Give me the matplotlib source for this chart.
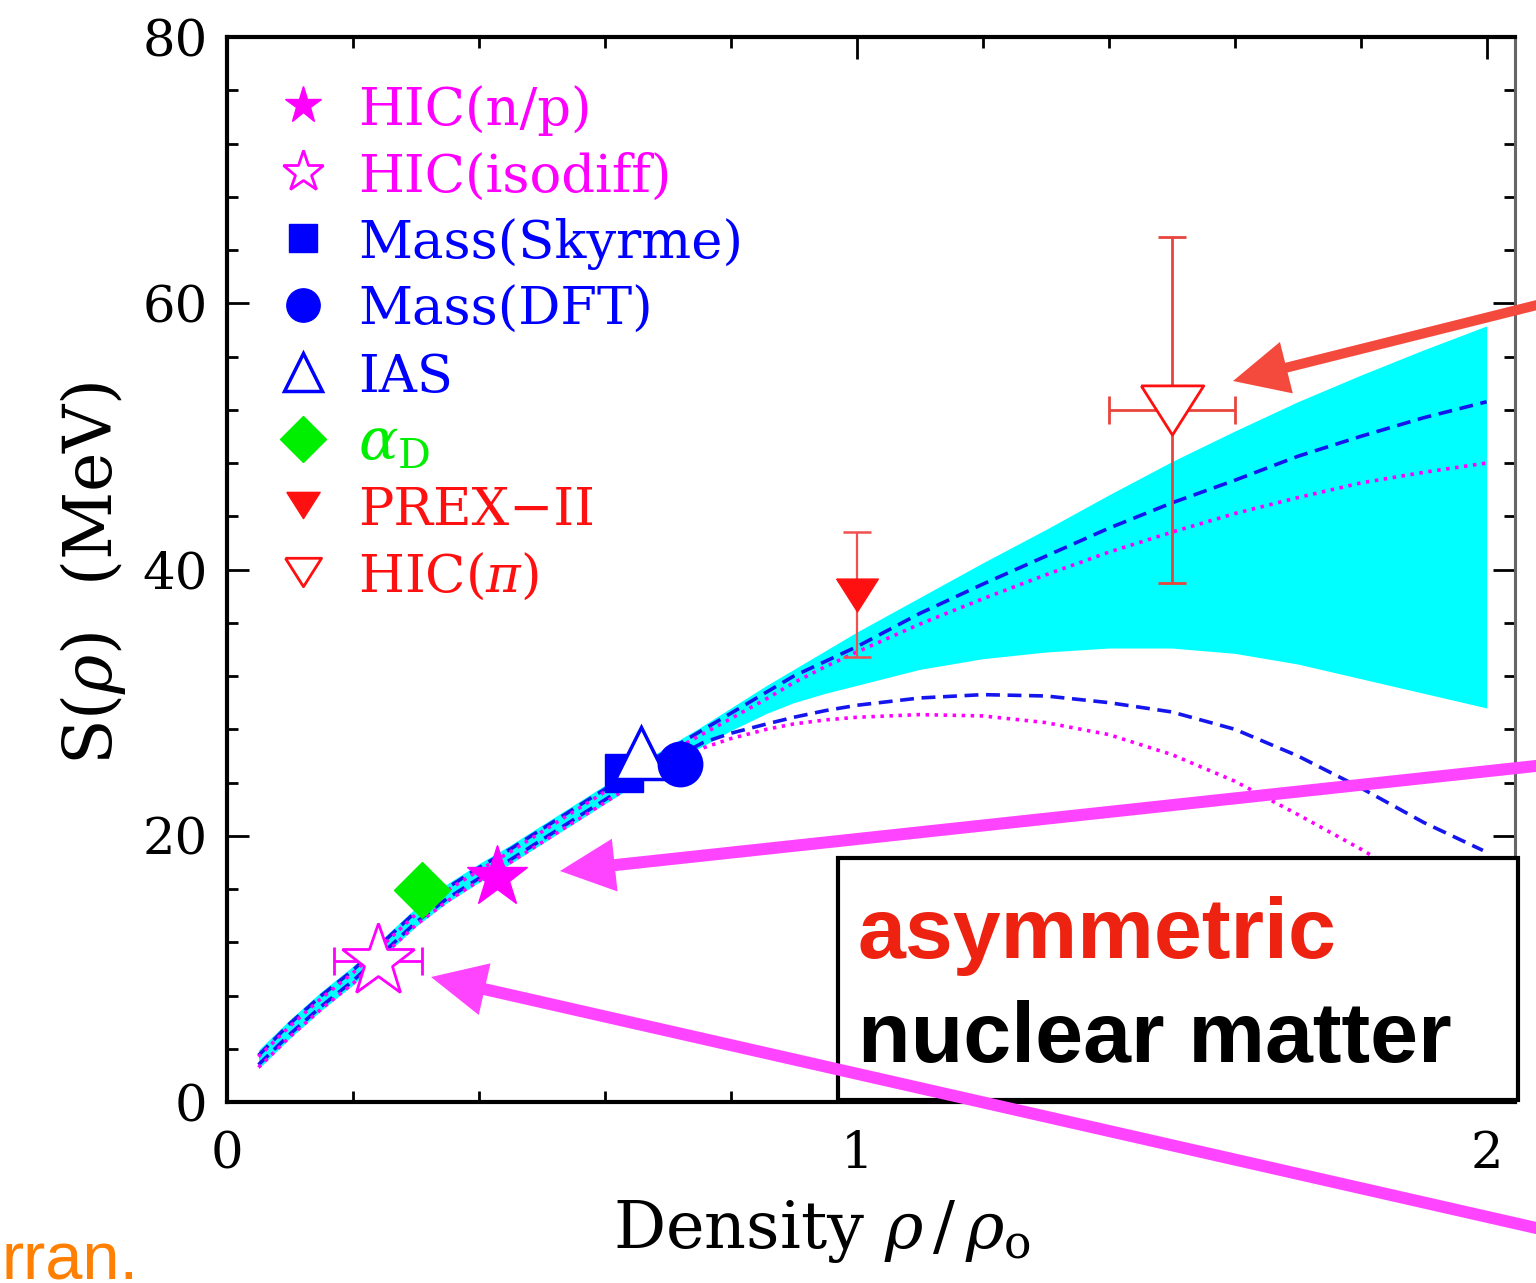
import matplotlib
matplotlib.use('Agg')
import matplotlib.pyplot as plt
from matplotlib.patches import Rectangle, FancyArrow
from matplotlib.transforms import Affine2D
from matplotlib.ticker import MultipleLocator

plt.rcParams['font.family'] = ['DejaVu Serif']
plt.rcParams['mathtext.fontset'] = 'dejavuserif'
plt.rcParams['lines.scale_dashes'] = False

# ---------------- data ----------------
x_low = [0.05, 0.1, 0.15, 0.2, 0.25, 0.3, 0.35, 0.4, 0.45, 0.5, 0.55, 0.6, 0.65, 0.7]
x_high = [0.75, 0.8, 0.857, 0.9, 0.95, 1.0, 1.1, 1.2, 1.3, 1.4, 1.5, 1.6, 1.7, 1.8, 1.9, 2.0]

# stiff (upper) dashed blue curve
x_dash_hi = x_low + x_high
s_dash_hi = [3.5, 5.9, 8.0, 9.9, 12.1, 14.3, 16.1, 17.6, 19.0, 20.5, 22.0, 23.5, 25.0, 26.4,
             27.8, 29.2, 30.8, 32.0, 33.1, 34.2, 36.7, 38.9, 41.0, 43.1, 45.0, 46.7, 48.5, 50.0, 51.4, 52.6]
# stiff (upper) dotted magenta curve
x_dot_hi = x_low + x_high
s_dot_hi = [3.4, 5.7, 7.8, 9.7, 11.9, 14.1, 15.9, 17.4, 18.8, 20.3, 21.8, 23.3, 24.8, 26.2,
            27.5, 28.8, 30.3, 31.5, 32.7, 33.8, 35.9, 37.8, 39.6, 41.3, 42.8, 44.2, 45.4, 46.5, 47.3, 48.0]
# soft (lower) dashed blue curve
x_dash_lo = x_low + [0.756, 0.8, 0.857, 0.9, 0.95, 1.0, 1.1, 1.2, 1.3, 1.4, 1.5, 1.6, 1.7, 1.8, 1.9, 1.994]
s_dash_lo = [2.8, 5.1, 7.2, 9.1, 11.3, 13.5, 15.3, 16.8, 18.2, 19.7, 21.2, 22.7, 24.2, 25.6,
             27.0, 27.7, 28.4, 28.9, 29.4, 29.8, 30.35, 30.6, 30.5, 30.0, 29.3, 28.0, 26.0, 23.6, 21.0, 18.9]
# soft (lower) dotted magenta curve
x_dot_lo = x_low + [0.756, 0.8, 0.857, 0.9, 0.95, 1.0, 1.1, 1.2, 1.3, 1.4, 1.5, 1.6, 1.7, 1.8, 1.9]
s_dot_lo = [2.6, 4.9, 7.0, 8.9, 11.1, 13.3, 15.1, 16.6, 18.0, 19.5, 21.0, 22.5, 24.0, 25.4,
            26.6, 27.3, 28.0, 28.4, 28.7, 28.9, 29.1, 29.0, 28.5, 27.6, 26.1, 24.1, 21.6, 19.0, 16.2]

# cyan constraint band
band_x = x_low + x_high
band_lo = [2.5, 4.8, 6.9, 8.8, 11.0, 13.2, 15.0, 16.5, 17.9, 19.4, 20.9, 22.4, 23.9, 25.3,
           26.6, 27.9, 29.2, 30.0, 30.7, 31.3, 32.5, 33.3, 33.8, 34.1, 34.1, 33.7, 32.9, 31.8, 30.7, 29.6]
band_hi = [3.9, 6.2, 8.3, 10.2, 12.4, 14.6, 16.4, 17.9, 19.3, 20.8, 22.3, 23.8, 25.3, 26.7,
           28.1, 29.6, 31.3, 32.5, 33.9, 35.3, 37.9, 40.5, 43.0, 45.6, 48.1, 50.4, 52.6, 54.6, 56.5, 58.3]

# measurements
hic_np = (0.429, 16.9)
hic_iso = (0.24, 10.6)
hic_iso_xerr = 0.07
mass_skyrme = (0.63, 24.7)
ias = (0.658, 26.2)
mass_dft = (0.719, 25.4)
alpha_d = (0.31, 15.9)
prex = (1.0, 38.1)
prex_yerr = 4.7
hic_pi = (1.5, 52.0)
hic_pi_yerr = 13.0
hic_pi_xerr = 0.1

legend_labels = ['HIC(n/p)', 'HIC(isodiff)', 'Mass(Skyrme)', 'Mass(DFT)', 'IAS',
                 r'$\alpha_{\rm D}$', 'PREX\u2212II', r'HIC($\pi$)']

x_ticks = [0, 1, 2]
y_ticks = [0, 20, 40, 60, 80]

# ---------------- figure ----------------
W, H = 1536, 1283
fig = plt.figure(figsize=(W / 100, H / 100), dpi=100)
ax = fig.add_axes([227 / W, 1 - 1102 / H, (1515 - 227) / W, (1102 - 37) / H])

MAG = '#FF00FF'
BLUE = '#0000FF'
RED = '#FF1010'
GREEN = '#00EE00'
ERR = '#E8453C'

ax.fill_between(band_x, band_lo, band_hi, color='#00FFFF', lw=0, zorder=1)

ax.plot(x_dash_hi, s_dash_hi, color='#1515EE', lw=2.6, dashes=(10, 5.5), zorder=2)
ax.plot(x_dash_lo, s_dash_lo, color='#1515EE', lw=2.6, dashes=(10, 5.5), zorder=2)
ax.plot(x_dot_hi, s_dot_hi, color=MAG, lw=2.6, dashes=(2.5, 4), zorder=2)
ax.plot(x_dot_lo, s_dot_lo, color=MAG, lw=2.6, dashes=(2.5, 4), zorder=2)

flat_down = [(-1.27, 1.0), (1.27, 1.0), (0.0, -1.0), (-1.27, 1.0)]

# data markers
ax.errorbar([hic_iso[0]], [hic_iso[1]], xerr=hic_iso_xerr, fmt='*', ms=55, mfc='white',
            mec=MAG, mew=2.0, ecolor=MAG, elinewidth=2, capsize=10, capthick=2, zorder=5)
ax.plot([alpha_d[0]], [alpha_d[1]], 'D', ms=29, color=GREEN, mec=GREEN, zorder=5)
ax.plot([hic_np[0]], [hic_np[1]], '*', ms=46, color=MAG, mec=MAG, zorder=5)
ax.plot([mass_skyrme[0]], [mass_skyrme[1]], 's', ms=28, color=BLUE, mec=BLUE, zorder=5)
ax.plot([ias[0]], [ias[1]], '^', ms=37, mfc='white', mec=BLUE, mew=2.5, zorder=6)
ax.plot([mass_dft[0]], [mass_dft[1]], 'o', ms=32, color=BLUE, mec=BLUE, zorder=6)
ax.errorbar([prex[0]], [prex[1]], yerr=prex_yerr, fmt='none', ecolor='#F05050',
            elinewidth=1.6, capsize=10, capthick=1.8, zorder=4)
ax.plot([prex[0]], [prex[1]], marker=flat_down, ms=30, color=RED, mec=RED, lw=0, zorder=5)
ax.errorbar([hic_pi[0]], [hic_pi[1]], yerr=hic_pi_yerr, xerr=hic_pi_xerr, fmt='none',
            ecolor=ERR, elinewidth=2.0, capsize=10, capthick=2.0, zorder=4)
ax.plot([hic_pi[0]], [hic_pi[1]], marker=flat_down, ms=45, mfc='white', mec=RED,
        mew=2.0, lw=0, zorder=5)

# legend (drawn in axes fraction)
leg_styles = [
    dict(marker='*', ms=28, mfc=MAG, mec=MAG, mew=1),
    dict(marker='*', ms=31, mfc='white', mec=MAG, mew=2),
    dict(marker='s', ms=20, mfc=BLUE, mec=BLUE, mew=1),
    dict(marker='o', ms=24, mfc=BLUE, mec=BLUE, mew=1),
    dict(marker='^', ms=28, mfc='white', mec=BLUE, mew=2.5),
    dict(marker='D', ms=23, mfc=GREEN, mec=GREEN, mew=1),
    dict(marker=flat_down, ms=24, mfc=RED, mec=RED, mew=1),
    dict(marker=flat_down, ms=26, mfc='white', mec=RED, mew=2),
]
leg_colors = [MAG, MAG, BLUE, BLUE, BLUE, GREEN, RED, RED]
leg_sizes = [38, 38, 38, 38, 38, 42, 38, 38]
ax_h = 1102 - 37
for i, (lab, st, col, fs) in enumerate(zip(legend_labels, leg_styles, leg_colors, leg_sizes)):
    yc = 105 + i * 66.7
    yf = (1102 - yc) / ax_h
    ax.plot([(303 - 227) / 1288], [yf], transform=ax.transAxes, lw=0, zorder=7, **st)
    yb = (1102 - (yc + 20)) / ax_h
    ax.text((358 - 227) / 1288, yb, lab, transform=ax.transAxes, color=col,
            fontsize=fs, ha='left', va='baseline', zorder=7)

ax.set_xlim(0, 2.045)
ax.set_ylim(0, 80)
ax.set_xticks(x_ticks)
ax.set_yticks(y_ticks)
ax.xaxis.set_minor_locator(MultipleLocator(0.2))
ax.yaxis.set_minor_locator(MultipleLocator(4))
ax.tick_params(which='both', direction='in', top=True, right=True, width=2, colors='black')
ax.tick_params(which='major', length=16, labelsize=37)
ax.tick_params(which='minor', length=8)
ax.tick_params(axis='x', which='major', pad=20)
ax.tick_params(axis='y', which='major', pad=14)
for side in ['left', 'bottom', 'top']:
    ax.spines[side].set_linewidth(3)
ax.spines['right'].set_linewidth(2.2)
ax.spines['right'].set_color('#666666')

ax.set_xlabel(r'Density $\rho\,/\,\rho_{\rm o}$', fontsize=47)
ax.xaxis.set_label_coords(0.462, -0.090)
ax.set_ylabel(r'S($\rho$)  (MeV)', fontsize=48)
ax.yaxis.set_label_coords(-0.077, 0.497)

# ---------------- overlay annotations (image pixel coords, y down) ----------------
T = Affine2D().scale(1 / 100, -1 / 100).translate(0, H / 100) + fig.dpi_scale_trans

box = Rectangle((838, 858), 680, 242, transform=T, facecolor='white', edgecolor='black',
                lw=3, zorder=3)
fig.add_artist(box)
fig.text(858 / W, 1 - 958 / H, 'asymmetric', color='#EE2211', fontsize=62, fontweight='bold',
         family=['Liberation Sans', 'DejaVu Sans'], ha='left', va='baseline', zorder=5)
fig.text(858 / W, 1 - 1062 / H, 'nuclear matter', color='black', fontsize=62, fontweight='bold',
         family=['Liberation Sans', 'DejaVu Sans'], ha='left', va='baseline', zorder=5)

arrows = [
    ((1545, 303), (1233, 381), '#F44A3E', 10),
    ((1545, 765), (560, 871), '#FF44FF', 12),
    ((1545, 1230), (431, 977), '#FF44FF', 12),
]
for (tx, ty), (hx, hy), col, w in arrows:
    arr = FancyArrow(tx, ty, hx - tx, hy - ty, width=w, head_width=53, head_length=55,
                     length_includes_head=True, color=col, lw=0, transform=T, zorder=6)
    fig.add_artist(arr)

fig.text(1 / W, 1 - 1280 / H, 'rran.', color='#FF7F00', fontsize=48,
         family=['Liberation Sans Narrow', 'Liberation Sans', 'DejaVu Sans'],
         ha='left', va='baseline', zorder=5)

fig.savefig('out.png', dpi=100)
